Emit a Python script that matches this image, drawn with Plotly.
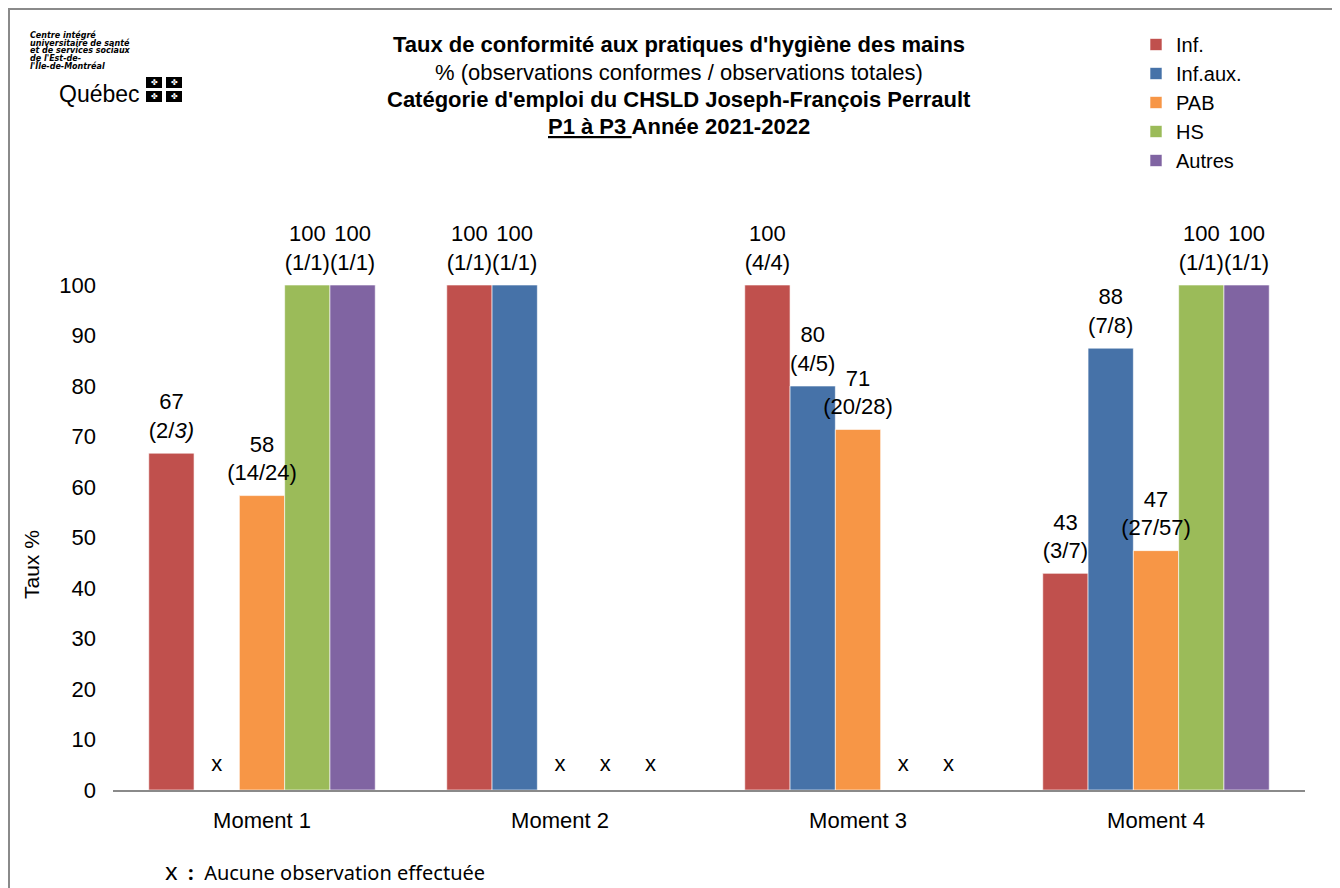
import plotly.graph_objects as go

# ---------------- data ----------------
categories = ["Moment 1", "Moment 2", "Moment 3", "Moment 4"]
series = ["Inf.", "Inf.aux.", "PAB", "HS", "Autres"]
colors = ["#C0504D", "#4672A8", "#F79646", "#9BBB59", "#8064A2"]

# None = aucune observation effectuée
inf_vals = [66.7, 100, 100, 42.9]
infaux_vals = [None, 100, 80, 87.5]
pab_vals = [58.3, None, 71.4, 47.4]
hs_vals = [100, None, None, 100]
autres_vals = [100, None, None, 100]

inf_lbl = ["67<br>(2/<i>3)</i>", "100<br>(1/1)", "100<br>(4/4)", "43<br>(3/7)"]
infaux_lbl = [None, "100<br>(1/1)", "80<br>(4/5)", "88<br>(7/8)"]
pab_lbl = ["58<br>(14/24)", None, "71<br>(20/28)", "47<br>(27/57)"]
hs_lbl = ["100<br>(1/1)", None, None, "100<br>(1/1)"]
autres_lbl = ["100<br>(1/1)", None, None, "100<br>(1/1)"]

values = [inf_vals, infaux_vals, pab_vals, hs_vals, autres_vals]
labels = [inf_lbl, infaux_lbl, pab_lbl, hs_lbl, autres_lbl]

missing_mark = "x"
missing_level = 4.8

# ---------------- layout geometry ----------------
OFF = 8  # page offset of the figure (body margin)
W, H = 1332, 880
L, R, T, B = 105, 35, 277, 98
PW = W - L - R
PH = H - T - B


def px(xp):
    """page x pixel -> paper coordinate"""
    return (xp - OFF - L) / PW


def py(yp):
    """page y pixel -> paper coordinate"""
    return (H - B - (yp - OFF)) / PH


FONT = "Liberation Sans, Arial, sans-serif"
FS = 22
bar_w = 0.152
n = len(series)

fig = go.Figure()
miss_x, miss_y = [], []
lab_x, lab_y, lab_t = [], [], []
for i, (name, vals, lbls, col) in enumerate(zip(series, values, labels, colors)):
    off = (i - (n - 1) / 2) * bar_w
    xs = [c + off for c in range(len(categories))]
    fig.add_trace(go.Bar(
        name=name, x=xs, y=vals, width=bar_w,
        marker=dict(color=col, line=dict(color="rgba(255,255,255,0.6)", width=1)),
        hoverinfo="skip",
    ))
    for xv, v, t in zip(xs, vals, lbls):
        if v is None:
            miss_x.append(xv)
            miss_y.append(missing_level)
        else:
            lab_x.append(xv)
            lab_y.append(v)
            lab_t.append(t)

# data labels drawn on top of all bars (invisible markers give the gap above the bar)
fig.add_trace(go.Scatter(
    x=lab_x, y=lab_y, mode="markers+text", text=lab_t, textposition="top center",
    marker=dict(size=14, opacity=0),
    textfont=dict(family=FONT, size=FS, color="black"),
    showlegend=False, hoverinfo="skip", cliponaxis=False,
))

fig.add_trace(go.Scatter(
    x=miss_x, y=miss_y, mode="text", text=[missing_mark] * len(miss_x),
    textfont=dict(family=FONT, size=FS, color="black"),
    showlegend=False, hoverinfo="skip", cliponaxis=False,
))

annotations = []
# titles
title_lines = [
    ("<b>Taux de conformité aux pratiques d'hygiène des mains</b>", 44),
    ("% (observations conformes / observations totales)", 72),
    ("<b>Catégorie d'emploi du CHSLD Joseph-François Perrault</b>", 100),
    ("<b><u>P1 à P3 </u>Année 2021-2022</b>", 127),
]
for txt, yp in title_lines:
    annotations.append(dict(text=txt, x=px(679), y=py(yp), xref="paper", yref="paper",
                            showarrow=False, xanchor="center", yanchor="middle",
                            font=dict(family=FONT, size=FS, color="black")))

# y-axis title
annotations.append(dict(text="Taux %", x=px(31), y=py(565), xref="paper", yref="paper",
                        showarrow=False, textangle=-90, xanchor="center", yanchor="middle",
                        font=dict(family=FONT, size=21, color="black")))

# footnote
annotations.append(dict(text="<span style='font-size:24px'>x</span>  <b>:</b>  Aucune observation effectuée",
                        x=px(163), y=py(870), xref="paper", yref="paper",
                        showarrow=False, xanchor="left", yanchor="middle",
                        font=dict(family="Noto Sans, DejaVu Sans, sans-serif", size=20, color="black")))

# logo text
logo_lines = ["Centre intégré", "universitaire de santé", "et de services sociaux",
              "de l'Est-de-", "l'Île-de-Montréal"]
for k, t in enumerate(logo_lines):
    annotations.append(dict(text="<b><i>" + t + "</i></b>", x=px(28), y=py(35 + k * 7.8),
                            xref="paper", yref="paper", showarrow=False,
                            xanchor="left", yanchor="middle",
                            font=dict(family="DejaVu Sans, sans-serif", size=8, color="black")))
annotations.append(dict(text="Québec", x=px(57), y=py(94), xref="paper", yref="paper",
                        showarrow=False, xanchor="left", yanchor="middle",
                        font=dict(family="Liberation Sans, Arial, sans-serif", size=23, color="black")))

shapes = []
# logo flag squares
for (x0, y0) in [(146, 77), (166, 77), (146, 91), (166, 91)]:
    shapes.append(dict(type="rect", xref="paper", yref="paper",
                       x0=px(x0), x1=px(x0 + 16), y0=py(y0), y1=py(y0 + 11),
                       fillcolor="black", line=dict(width=0)))
    annotations.append(dict(text="✤", x=px(x0 + 8), y=py(y0 + 5.5), xref="paper", yref="paper",
                            showarrow=False, xanchor="center", yanchor="middle",
                            font=dict(family="DejaVu Sans", size=8, color="white")))

# outer border
shapes.append(dict(type="rect", xref="paper", yref="paper",
                   x0=px(9), x1=px(1400), y0=py(950), y1=py(9),
                   line=dict(color="#8A8A8A", width=2), fillcolor="rgba(0,0,0,0)", layer="below"))

fig.update_layout(
    width=W, height=H,
    margin=dict(l=L, r=R, t=T, b=B, autoexpand=False),
    paper_bgcolor="white", plot_bgcolor="white",
    barmode="overlay",
    showlegend=True,
    legend=dict(x=px(1136), y=py(25), xanchor="left", yanchor="top",
                font=dict(family=FONT, size=20, color="black"),
                itemwidth=30, bgcolor="rgba(0,0,0,0)", tracegroupgap=0),
    xaxis=dict(range=[-0.5, 3.5], tickvals=list(range(len(categories))), ticktext=categories,
               showline=True, linecolor="#8A8A8A", linewidth=2, showgrid=False, zeroline=False,
               ticks="", ticklabelstandoff=10,
               tickfont=dict(family=FONT, size=FS, color="black")),
    yaxis=dict(range=[0, 100], tickvals=list(range(0, 101, 10)),
               showline=False, showgrid=False, zeroline=False, ticks="",
               ticklabelstandoff=16,
               tickfont=dict(family=FONT, size=FS, color="black")),
    annotations=annotations,
    shapes=shapes,
)

fig.write_html("out.html")
